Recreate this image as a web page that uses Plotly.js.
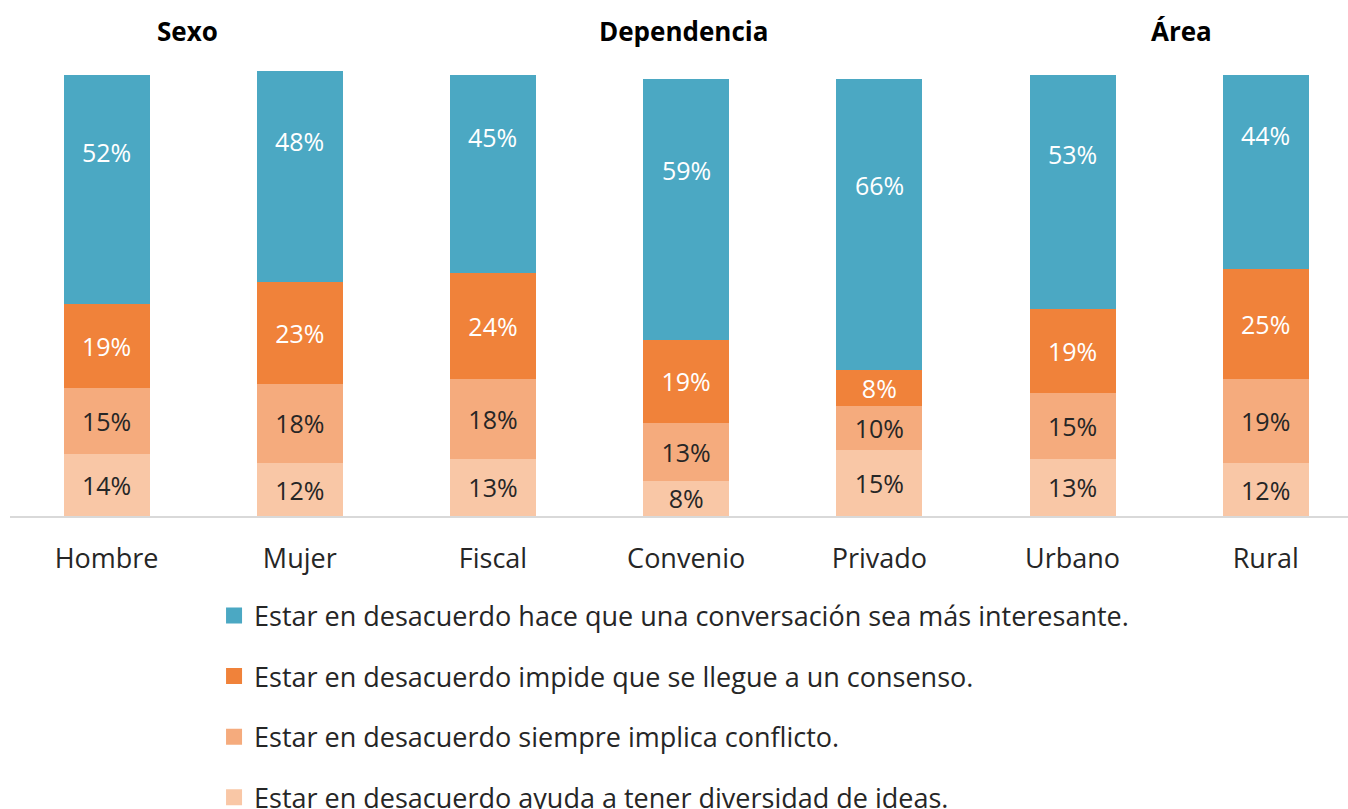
<!DOCTYPE html>
<html>
<head>
<meta charset="utf-8">
<script src="https://cdn.plot.ly/plotly-3.0.1.min.js"></script>
<style>html,body{margin:0;padding:0;background:#fff;}#chart{width:1348px;height:809px;}</style>
</head>
<body>
<div id="chart"></div>
<script>
const categories = ['Hombre', 'Mujer', 'Fiscal', 'Convenio', 'Privado', 'Urbano', 'Rural'];
const seriesNames = [
  'Estar en desacuerdo hace que una conversación sea más interesante.',
  'Estar en desacuerdo impide que se llegue a un consenso.',
  'Estar en desacuerdo siempre implica conflicto.',
  'Estar en desacuerdo ayuda a tener diversidad de ideas.'
];
const interesante = [52, 48, 45, 59, 66, 53, 44];
const consenso = [19, 23, 24, 19, 8, 19, 25];
const conflicto = [15, 18, 18, 13, 10, 15, 19];
const diversidad = [14, 12, 13, 8, 15, 13, 12];
const groupTitles = ['Sexo', 'Dependencia', 'Área'];

const colors = ['#4BA8C3', '#F0823A', '#F5AB7D', '#F9C7A6'];
const FONT = '"Open Sans", "Noto Sans", sans-serif';
const YMAX = 117;
const BARW = 0.445;

function barTrace(vals, idx, textColor, showText) {
  return {
    type: 'bar', x: categories, y: vals, name: seriesNames[idx],
    marker: {color: colors[idx], line: {width: 0}},
    width: BARW, showlegend: false,
    text: showText ? vals.map(v => v + '%') : undefined,
    textposition: showText ? 'inside' : 'none',
    insidetextanchor: 'middle', textangle: 0, constraintext: 'none',
    insidetextfont: {family: FONT, size: 25, color: textColor},
    hoverinfo: 'x+y+name'
  };
}

const traces = [
  barTrace(diversidad, 3, '#262626', true),
  barTrace(conflicto, 2, '#262626', true),
  barTrace(consenso, 1, '#FFFFFF', true),
  barTrace(interesante, 0, '#FFFFFF', false)
];
// legend entries
seriesNames.forEach((n, i) => {
  traces.push({
    type: 'scatter', mode: 'markers', x: [null], y: [null], name: n,
    marker: {symbol: 'square', size: 18, color: colors[i]},
    legendgroup: 'g' + i, showlegend: true, hoverinfo: 'skip'
  });
});

const annotations = [];
// labels for the top series
interesante.forEach((v, i) => {
  const base = diversidad[i] + conflicto[i] + consenso[i];
  annotations.push({
    x: categories[i], y: (base + YMAX) / 2, xref: 'x', yref: 'y',
    text: v + '%', showarrow: false,
    font: {family: FONT, size: 25, color: '#FFFFFF'}
  });
});
const titleX = [0.419, 2.987, 5.565];
groupTitles.forEach((t, i) => {
  annotations.push({
    x: titleX[i], y: 0.94, xref: 'x', yref: 'paper', xanchor: 'center', yanchor: 'middle',
    text: '<b>' + t + '</b>',
    showarrow: false, font: {family: FONT, size: 26, color: '#000000'}
  });
});

const layout = {
  width: 1348, height: 809,
  margin: {l: 10, r: 0, t: 0, b: 293},
  paper_bgcolor: '#FFFFFF', plot_bgcolor: '#FFFFFF',
  barmode: 'stack',
  xaxis: {
    type: 'category', range: [-0.5, 6.426], showline: true, linecolor: '#D9D9D9', linewidth: 2,
    showgrid: false, zeroline: false, ticks: '', ticklabelstandoff: 18, tickangle: 0,
    tickfont: {family: FONT, size: 27, color: '#262626'}, fixedrange: true
  },
  yaxis: {range: [0, YMAX], visible: false, showgrid: false, zeroline: false, fixedrange: true},
  showlegend: true,
  legend: {
    xref: 'paper', yref: 'container', x: 0.1525, y: 0.269, xanchor: 'left', yanchor: 'top',
    orientation: 'v', traceorder: 'grouped', tracegroupgap: 22.5,
    font: {family: FONT, size: 27, color: '#262626'}, bgcolor: 'rgba(0,0,0,0)', borderwidth: 0
  },
  annotations: annotations
};

Plotly.newPlot('chart', traces, layout, {displayModeBar: false, staticPlot: true});
</script>
</body>
</html>
